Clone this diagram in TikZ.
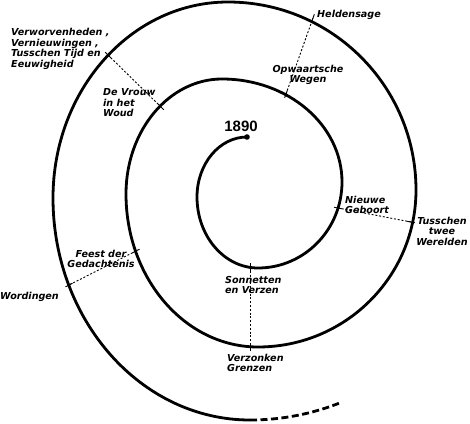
\documentclass[tikz,border=0pt]{standalone}
\usepackage{fontspec}
\setmainfont{DejaVu Sans}
\newfontfamily\yearfont{Liberation Sans}
\usetikzlibrary{calc}
\tikzset{
  spiral/.style = {line width=2.8pt, line cap=round},
  ptr/.style    = {line width=0.9pt, dash pattern=on 2pt off 1.8pt},
  tick/.style   = {line width=0.9pt},
  lbl/.style    = {inner sep=0pt, font=\fontsize{9.6}{10.5}\selectfont\bfseries\itshape},
}

\begin{document}
\begin{tikzpicture}[x=1pt,y=1pt]
  \useasboundingbox (0,0) rectangle (470,423);
  \draw[spiral] (247,286)
    arc[start angle=90,  end angle=180, x radius=50,  y radius=60]
    arc[start angle=180, end angle=270, x radius=61,  y radius=71]
    arc[start angle=270, end angle=360, x radius=84,  y radius=86]
    arc[start angle=0,   end angle=90,  x radius=120, y radius=103]
    arc[start angle=90,  end angle=180, x radius=96,  y radius=115]
    arc[start angle=180, end angle=270, x radius=132, y radius=153]
    arc[start angle=270, end angle=360, x radius=158, y radius=157]
    arc[start angle=0,   end angle=90,  x radius=188, y radius=188]
    arc[start angle=90,  end angle=180, x radius=175, y radius=196]
    arc[start angle=180, end angle=270, x radius=197, y radius=222]
    coordinate (end);
  \draw[spiral, line cap=butt, dash pattern=on 7pt off 3.5pt] (end)
    arc[start angle=270, end angle=293, x radius=235, y radius=225];
  \fill (247,286) circle (2.8pt);
  \node[inner sep=0pt, font=\yearfont\bfseries\fontsize{15}{15}\selectfont] (year) at (241,297) {1890};

  \coordinate (wegen)     at (286,329);
  \coordinate (helden)    at (313,405);
  \coordinate (vrouw)     at (161,316);
  \coordinate (verworv)   at (108,368);
  \coordinate (geboort)   at (338,215);
  \coordinate (werelden)  at (411,201);
  \coordinate (feest)     at (136,172);
  \coordinate (wordingen) at (69,138);
  \coordinate (sonnetten) at (250,156);
  \coordinate (verzonken) at (250,76);

  \node[lbl, anchor=west] (heldensage) at (317,408) {Heldensage};
  \node[lbl, align=center] (opw) at (308,348) {Opwaartsche\\Wegen};
  \node[lbl, anchor=west, align=left] (verw) at (11,374) {Verworvenheden ,\\Vernieuwingen ,\\Tusschen Tijd en\\Eeuwigheid};
  \node[lbl, anchor=west, align=left] (woud) at (103,320) {De Vrouw\\in het\\Woud};
  \node[lbl, anchor=west, align=left] (nieuwe) at (345,218) {Nieuwe\\Geboort};
  \node[lbl, align=center] (tussch) at (442,192) {Tusschen\\twee\\Werelden};
  \node[lbl, align=center] (gedacht) at (101,164) {Feest der\\Gedachtenis};
  \node[lbl, anchor=west] (word) at (0,126) {Wordingen};
  \node[lbl, anchor=west, align=left] (sonn) at (225,138) {Sonnetten\\en Verzen};
  \node[lbl, anchor=west, align=left] (grenzen) at (227,60) {Verzonken\\Grenzen};

  \draw[ptr] (wegen) -- (helden);       \draw[ptr] (vrouw) -- (verworv);
  \draw[ptr] (geboort) -- (werelden);   \draw[ptr] (feest) -- (wordingen);
  \draw[ptr] (sonnetten) -- (verzonken);
  \draw[tick] ($(wegen)!-4pt!(helden)$) -- ($(wegen)!4pt!(helden)$);
  \draw[tick] ($(helden)!-4pt!(wegen)$) -- ($(helden)!4pt!(wegen)$);
  \draw[tick] ($(vrouw)!-4pt!(verworv)$) -- ($(vrouw)!4pt!(verworv)$);
  \draw[tick] ($(verworv)!-4pt!(vrouw)$) -- ($(verworv)!4pt!(vrouw)$);
  \draw[tick] ($(geboort)!-4pt!(werelden)$) -- ($(geboort)!4pt!(werelden)$);
  \draw[tick] ($(werelden)!-4pt!(geboort)$) -- ($(werelden)!4pt!(geboort)$);
  \draw[tick] ($(feest)!-4pt!(wordingen)$) -- ($(feest)!4pt!(wordingen)$);
  \draw[tick] ($(wordingen)!-4pt!(feest)$) -- ($(wordingen)!4pt!(feest)$);
  \draw[tick] ($(sonnetten)!-4pt!(verzonken)$) -- ($(sonnetten)!4pt!(verzonken)$);
  \draw[tick] ($(verzonken)!-4pt!(sonnetten)$) -- ($(verzonken)!4pt!(sonnetten)$);
\end{tikzpicture}
\end{document}
